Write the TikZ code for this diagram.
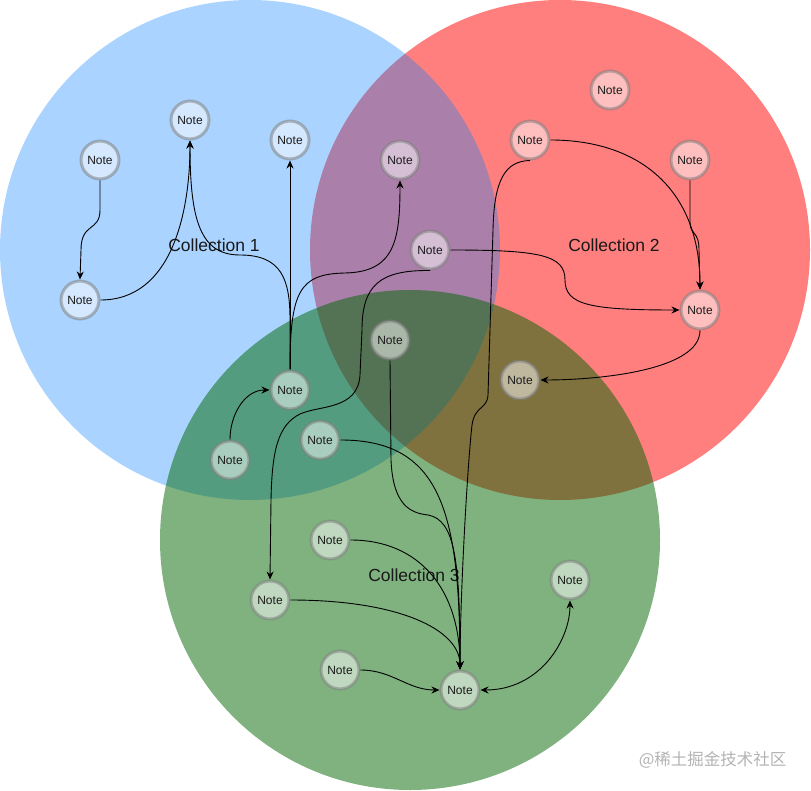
\documentclass[tikz,border=0pt]{standalone}
\usepackage{fontspec}
\setmainfont{Liberation Sans}
\newfontfamily\cjkfont{Noto Sans CJK SC}
\usetikzlibrary{arrows.meta}
\definecolor{cblue}{HTML}{007FFF}
\definecolor{cred}{HTML}{FF0000}
\definecolor{cgreen}{HTML}{006600}
\definecolor{wmark}{HTML}{B4B4B4}
\tikzset{
  notebox/.style={circle, minimum size=38pt, inner sep=0pt, line width=3pt,
    draw=gray, draw opacity=0.55, fill=white, fill opacity=0.5, text opacity=1,
    text=black!90, font=\fontsize{12}{14}\selectfont},
  colllabel/.style={font=\fontsize{17.5}{20}\selectfont, text=black!90},
  conn/.style={line width=0.9pt, draw=black, -{Stealth[length=8pt,width=7pt]}},
  bothconn/.style={line width=0.9pt, draw=black, {Stealth[length=8pt,width=7pt]}-{Stealth[length=8pt,width=7pt]}},
}
\begin{document}
\begin{tikzpicture}[x=1pt,y=-1pt]
\useasboundingbox (0,0) rectangle (811,791);
\fill[white] (0,0) rectangle (811,791);
% sets
\fill[cred, fill opacity=0.5] (560,250) circle[radius=250pt];
\fill[cblue, fill opacity=0.333] (250,250) circle[radius=250pt];
\fill[cgreen, fill opacity=0.5] (410,540) circle[radius=250pt];
% labels
\node[colllabel] (c1) at (214,245) {Collection 1};
\node[colllabel] (c2) at (614,245) {Collection 2};
\node[colllabel] (c3) at (414,575) {Collection 3};
% notes
\node[notebox] (A1) at (100,160) {Note};
\node[notebox] (A2) at (80,300) {Note};
\node[notebox] (A3) at (190,120) {Note};
\node[notebox] (A4) at (290,140) {Note};
\node[notebox] (P1) at (400,160) {Note};
\node[notebox] (P2) at (430,250) {Note};
\node[notebox] (R1) at (610,90) {Note};
\node[notebox] (R2) at (530,140) {Note};
\node[notebox] (R3) at (690,160) {Note};
\node[notebox] (R4) at (700,310) {Note};
\node[notebox] (RG) at (520,380) {Note};
\node[notebox] (T) at (390,340) {Note};
\node[notebox] (BG1) at (290,390) {Note};
\node[notebox] (BG2) at (230,460) {Note};
\node[notebox] (BG3) at (320,440) {Note};
\node[notebox] (G1) at (330,540) {Note};
\node[notebox] (G2) at (270,600) {Note};
\node[notebox] (G3) at (570,580) {Note};
\node[notebox] (G4) at (340,670) {Note};
\node[notebox] (G5) at (460,690) {Note};
% connectors
\draw[conn] (A1.south) -- (100,210) .. controls (100,232) and (81,222) .. (81,250) -- (A2.north);
\draw[conn] (A2.east) .. controls (172,300) and (190,212) .. (A3.south);
\draw[conn] (BG1.north) -- (290,320) .. controls (290,280) and (282,255) .. (240,255) .. controls (200,255) and (190,220) .. (A3.south);
\draw[conn] (BG1.north) -- (A4.south);
\draw[conn] (BG1.north) .. controls (290,290) and (300,274) .. (345,273) .. controls (395,272) and (400,240) .. (P1.south);
\draw[conn] (BG2.north) to[out=90,in=180] (BG1.west);
\draw[conn] (P2.south) .. controls (380,270) and (362,285) .. (362,330) -- (360,375) .. controls (358,410) and (320,405) .. (300,414) .. controls (278,425) and (272,450) .. (271,500) -- (G2.north);
\draw[conn] (P2.east) .. controls (540,250) and (565,255) .. (565,280) .. controls (565,305) and (590,310) .. (R4.west);
\draw[conn] (R2.east) .. controls (640,140) and (700,190) .. (R4.north);
\draw[conn] (R3.south) -- (690,222) .. controls (690,236) and (699,230) .. (699,250) -- (R4.north);
\draw[conn] (R4.south) .. controls (700,370) and (600,380) .. (RG.east);
\draw[conn] (R2.south) .. controls (505,161) and (494,180) .. (493,230) -- (488,395) .. controls (487,410) and (475,405) .. (472,425) .. controls (467,470) and (460,600) .. (G5.north);
\draw[conn] (T.south) -- (391,460) .. controls (393,505) and (410,513) .. (428,515) .. controls (455,520) and (460,560) .. (G5.north);
\draw[conn] (BG3.east) .. controls (440,440) and (460,510) .. (G5.north);
\draw[conn] (G1.east) .. controls (420,540) and (460,590) .. (G5.north);
\draw[conn] (G2.east) .. controls (400,600) and (460,630) .. (G5.north);
\draw[conn] (G4.east) to[out=0,in=180] (G5.west);
\draw[bothconn] (G5.east) .. controls (540,690) and (570,640) .. (G3.south);
% watermark
\node[font=\cjkfont\fontsize{16.5}{18}\selectfont, text=wmark, anchor=east] (wm) at (790,760) {@稀土掘金技术社区};
\end{tikzpicture}
\end{document}
